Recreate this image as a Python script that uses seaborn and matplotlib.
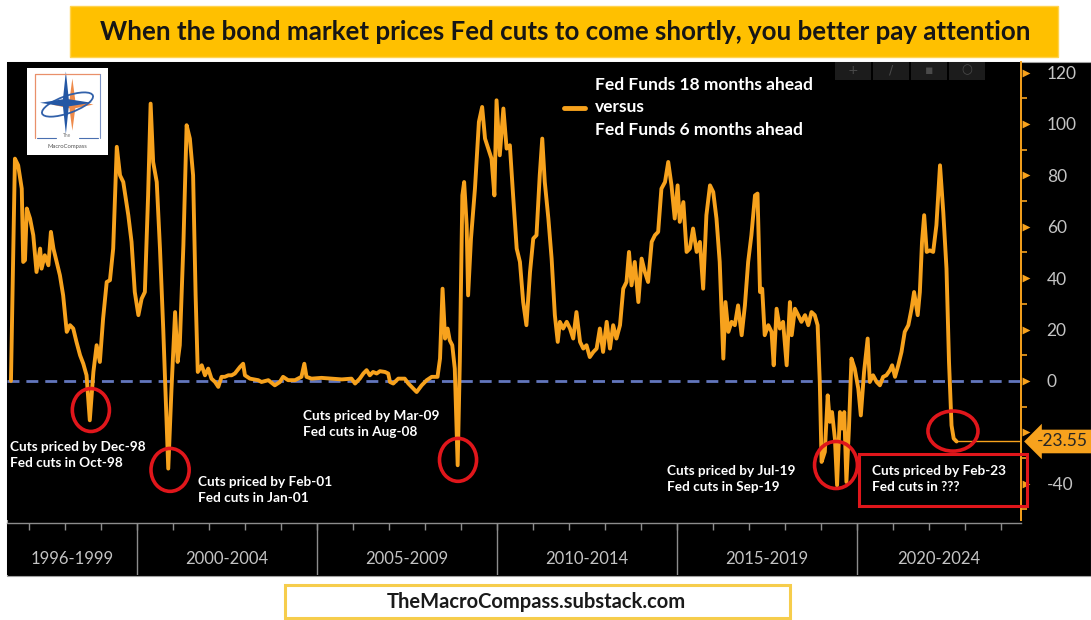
import numpy as np
import pandas as pd
import matplotlib
matplotlib.use("Agg")
import matplotlib.pyplot as plt
import matplotlib.transforms as mtransforms
from matplotlib.patches import Rectangle, Ellipse, Polygon
from matplotlib.lines import Line2D
import seaborn as sns

sns.set_theme(style="dark")
plt.rcParams["font.family"] = ["Lato", "DejaVu Sans"]

# ---------------------------------------------------------------------------
# Fed Funds 18m-ahead minus 6m-ahead spread (bp), by decimal year
# ---------------------------------------------------------------------------
t_1996_1999 = [1996.50, 1996.61, 1996.70, 1996.80, 1996.84, 1996.89, 1996.94, 1997.03,
               1997.12, 1997.21, 1997.31, 1997.35, 1997.44, 1997.54, 1997.61, 1997.68,
               1997.77, 1997.86, 1997.95, 1998.05, 1998.14, 1998.23, 1998.32, 1998.42,
               1998.51, 1998.60, 1998.69, 1998.79, 1998.88, 1998.97, 1999.06, 1999.16,
               1999.25, 1999.34, 1999.44, 1999.53, 1999.62, 1999.76, 1999.85, 1999.94]
v_1996_1999 = [0.0, 86.5, 83.9, 74.8, 46.3, 47.0, 67.1, 63.2,
               56.7, 42.4, 51.5, 43.7, 48.9, 45.0, 58.0, 51.5,
               46.3, 41.1, 33.3, 19.1, 21.7, 20.4, 15.2, 10.0,
               6.7, 2.2, -15.3, 3.5, 13.9, 7.4, 24.3, 38.5,
               39.2, 51.5, 91.1, 80.0, 77.4, 64.5, 54.1, 34.6]

t_2000_2004 = [2000.04, 2000.13, 2000.22, 2000.31, 2000.38, 2000.45, 2000.55, 2000.64,
               2000.73, 2000.87, 2000.96, 2001.06, 2001.13, 2001.19, 2001.29, 2001.38,
               2001.47, 2001.56, 2001.63, 2001.69, 2001.80, 2001.89, 2001.98, 2002.07,
               2002.17, 2002.26, 2002.35, 2002.44, 2002.54, 2002.63, 2002.72, 2002.86,
               2002.95, 2003.00, 2003.14, 2003.37, 2003.46, 2003.65, 2003.83, 2003.97,
               2004.06, 2004.20, 2004.39, 2004.57, 2004.65, 2004.71, 2004.85]
v_2000_2004 = [25.6, 32.0, 34.6, 72.2, 107.9, 85.2, 77.4, 51.5,
               20.4, -34.1, -3.0, 26.8, 7.4, 13.9, 52.8, 99.5,
               94.3, 80.0, 33.3, 3.5, 6.1, 2.2, 4.8, 0.9,
               -0.4, -2.3, 1.6, 1.6, 2.2, 2.2, 2.9, 5.4,
               6.7, 2.2, 0.9, 0.3, -0.4, 0.3, -1.7, -0.4,
               1.6, 0.3, 0.3, 1.6, 6.7, 1.6, 0.9]

t_2005_2009 = [2005.13, 2005.41, 2005.69, 2005.96, 2006.06, 2006.19, 2006.29, 2006.38,
               2006.47, 2006.56, 2006.66, 2006.75, 2006.89, 2006.98, 2007.03, 2007.12,
               2007.26, 2007.44, 2007.54, 2007.63, 2007.77, 2007.91, 2008.05, 2008.19,
               2008.35, 2008.42, 2008.49, 2008.56, 2008.63, 2008.69, 2008.76, 2008.83,
               2008.91, 2008.97, 2009.04, 2009.09, 2009.16, 2009.20, 2009.28, 2009.39,
               2009.50, 2009.59, 2009.67, 2009.76, 2009.85, 2009.93, 2009.99]
v_2005_2009 = [1.2, 0.9, 0.6, 0.9, -1.0, 0.9, 2.9, 4.2,
               2.2, 3.5, 2.9, 3.8, 3.5, 2.9, -0.4, -1.0,
               0.9, 0.9, -1.0, -2.3, -4.3, -1.7, 0.3, 1.6,
               1.6, 8.7, 35.9, 16.5, 20.4, 15.8, 13.9, 4.8,
               -32.8, 7.4, 72.2, 77.4, 60.6, 33.3, 55.4, 74.8,
               100.8, 106.6, 94.3, 90.4, 86.5, 72.2, 109.2]

t_2010_2014 = [2010.08, 2010.18, 2010.27, 2010.36, 2010.45, 2010.55, 2010.64, 2010.73,
               2010.82, 2010.92, 2011.01, 2011.10, 2011.19, 2011.26, 2011.33, 2011.43,
               2011.52, 2011.61, 2011.69, 2011.75, 2011.84, 2011.94, 2012.03, 2012.12,
               2012.21, 2012.31, 2012.40, 2012.49, 2012.58, 2012.68, 2012.77, 2012.86,
               2012.95, 2013.05, 2013.14, 2013.23, 2013.32, 2013.42, 2013.51, 2013.60,
               2013.67, 2013.74, 2013.83, 2013.93, 2014.02, 2014.11, 2014.20, 2014.30,
               2014.39, 2014.48, 2014.57, 2014.67, 2014.76, 2014.85, 2014.94]
v_2010_2014 = [87.8, 106.0, 90.4, 91.7, 72.2, 51.5, 46.3, 30.7,
               21.7, 42.4, 55.4, 56.7, 80.0, 94.3, 77.4, 63.2,
               47.6, 25.6, 15.2, 23.0, 20.4, 23.0, 20.4, 16.5,
               26.8, 15.2, 12.6, 13.9, 9.3, 11.3, 12.6, 20.4,
               11.3, 23.0, 12.6, 21.7, 16.5, 21.7, 35.9, 38.5,
               50.2, 37.2, 46.3, 30.7, 47.6, 42.4, 38.5, 54.1,
               56.7, 58.0, 74.8, 77.4, 85.2, 76.1, 63.2]

t_2015_2019 = [2015.02, 2015.08, 2015.18, 2015.27, 2015.36, 2015.45, 2015.55, 2015.64,
               2015.73, 2015.82, 2015.92, 2016.01, 2016.10, 2016.19, 2016.29, 2016.35,
               2016.43, 2016.52, 2016.61, 2016.70, 2016.80, 2016.89, 2016.98, 2017.07,
               2017.17, 2017.24, 2017.31, 2017.37, 2017.44, 2017.54, 2017.63, 2017.69,
               2017.77, 2017.86, 2017.95, 2018.05, 2018.14, 2018.19, 2018.28, 2018.37,
               2018.46, 2018.56, 2018.65, 2018.74, 2018.83, 2018.91, 2018.97, 2019.02,
               2019.11, 2019.19, 2019.25, 2019.31, 2019.39, 2019.45, 2019.53, 2019.59,
               2019.65, 2019.71, 2019.78, 2019.85, 2019.94]
v_2015_2019 = [76.1, 61.9, 69.6, 50.2, 51.5, 59.3, 50.2, 54.1,
               35.9, 64.5, 76.1, 73.5, 63.2, 46.3, 8.7, 30.7,
               19.1, 23.0, 21.7, 29.4, 17.8, 29.4, 46.3, 56.7,
               72.2, 72.9, 34.6, 35.9, 17.8, 21.7, 19.1, 6.1,
               28.1, 20.4, 23.0, 6.1, 30.7, 17.8, 28.1, 25.6,
               23.0, 25.6, 21.7, 26.8, 25.6, 21.7, -0.4, -31.5,
               -27.6, -5.6, -15.9, -12.1, -22.4, -40.6, -12.1, -18.5,
               -12.1, -39.3, -18.5, 8.7, 4.8]

t_2020_2024 = [2020.04, 2020.11, 2020.20, 2020.30, 2020.36, 2020.45, 2020.55, 2020.64,
               2020.73, 2020.82, 2020.92, 2020.98, 2021.06, 2021.15, 2021.24, 2021.33,
               2021.43, 2021.52, 2021.59, 2021.69, 2021.75, 2021.81, 2021.87, 2021.94,
               2022.03, 2022.12, 2022.21, 2022.31, 2022.40, 2022.49, 2022.56, 2022.63,
               2022.69, 2022.77]
v_2020_2024 = [-3.0, -13.4, 3.5, 16.5, -0.4, 2.2, -0.4, -1.7,
               1.6, 2.2, 4.2, 6.1, 1.6, 6.1, 11.3, 19.1,
               21.7, 28.1, 34.6, 25.6, 34.6, 54.1, 64.5, 50.2,
               50.8, 50.2, 60.6, 83.9, 65.8, 43.7, 7.4, -17.3,
               -22.4, -23.55]

periods = ["1996-1999", "2000-2004", "2005-2009", "2010-2014", "2015-2019", "2020-2024"]
period_edges = [1996, 2000, 2005, 2010, 2015, 2020, 2025]
y_major = [-40, -20, 0, 20, 40, 60, 80, 100, 120]
# the -20 label sits under the last-value tag
y_major_labels = ["-40", "", "0", "20", "40", "60", "80", "100", "120"]
legend_label = "Fed Funds 18 months ahead\nversus\nFed Funds 6 months ahead"

callouts = [
    ("Cuts priced by Dec-98\nFed cuts in Oct-98", 1996.47, -23.5),
    ("Cuts priced by Feb-01\nFed cuts in Jan-01", 2001.69, -36.8),
    ("Cuts priced by Mar-09\nFed cuts in Aug-08", 2004.61, -11.2),
    ("Cuts priced by Jul-19\nFed cuts in Sep-19", 2014.72, -32.6),
    ("Cuts priced by Feb-23\nFed cuts in ???", 2020.42, -32.6),
]
# circled episodes: centre (year, bp), width (years), height (bp)
circles = [
    (1998.72, -11.3, 1.03, 16.7),
    (2000.92, -34.6, 1.06, 16.7),
    (2008.92, -30.7, 1.03, 16.7),
    (2019.42, -32.7, 1.19, 18.3),
    (2022.67, -19.5, 1.39, 15.6),
]

df = pd.DataFrame({
    "year": np.concatenate([t_1996_1999, t_2000_2004, t_2005_2009,
                            t_2010_2014, t_2015_2019, t_2020_2024]),
    "spread": np.concatenate([v_1996_1999, v_2000_2004, v_2005_2009,
                              v_2010_2014, v_2015_2019, v_2020_2024]),
})

# ---------------------------------------------------------------------------
ORANGE = "#F7A21D"
BLUE = "#6276BD"
RED = "#E0161B"
GREY_TXT = "#C4C4C4"

W, H = 1091, 620


def fx(px):
    return px / W


def fy(py):
    return 1 - py / H


fig = plt.figure(figsize=(W / 100, H / 100), dpi=100)
fig.patch.set_facecolor("white")

# black terminal panel
fig.add_artist(Rectangle((fx(7), fy(576)), fx(1091) - fx(7), fy(62) - fy(576),
                         transform=fig.transFigure, facecolor="black",
                         edgecolor="#a0a0a0", lw=0.8, zorder=0))

# title banner
fig.add_artist(Rectangle((fx(70), fy(57)), fx(1058) - fx(70), fy(6) - fy(57),
                         transform=fig.transFigure, facecolor="#FFC000",
                         edgecolor="#FFD34F", lw=1.0, zorder=1))
fig.text(fx(565), fy(32), "When the bond market prices Fed cuts to come shortly, you better pay attention",
         ha="center", va="center", fontsize=18.6, fontweight="bold", color="#161616", zorder=2)

# footer banner
fig.add_artist(Rectangle((fx(285), fy(618)), fx(790) - fx(285), fy(585) - fy(618),
                         transform=fig.transFigure, facecolor="white",
                         edgecolor="#F6CD4C", lw=2.2, zorder=1))
fig.text(fx(536), fy(602), "TheMacroCompass.substack.com", ha="center", va="center",
         fontsize=14.5, fontweight="bold", color="#1a1a1a", zorder=2)

# ---------------------------------------------------------------------------
# main panel
ax = fig.add_axes([fx(7), fy(520), fx(1021) - fx(7), fy(62) - fy(520)])
ax.set_facecolor("black")
xmin, xmax = 1996.39, 2024.56
ax.set_xlim(xmin, xmax)
ax.set_ylim(-54.1, 124.1)

ax.axhline(0, color=BLUE, lw=2.0, dashes=(4.3, 2.5), zorder=1)
sns.lineplot(data=df, x="year", y="spread", ax=ax, color=ORANGE, lw=2.8,
             estimator=None, sort=False, legend=False, zorder=3)

last_x, last_v = df["year"].iloc[-1], df["spread"].iloc[-1]
ax.hlines(last_v, last_x, xmax, color=ORANGE, lw=1.0, zorder=3)

for s in ["top", "bottom", "left"]:
    ax.spines[s].set_visible(False)
ax.spines["right"].set_color(ORANGE)
ax.spines["right"].set_linewidth(1.4)
ax.grid(False)
ax.set_xlabel("")
ax.set_ylabel("")
ax.set_xticks([])

ax.yaxis.tick_right()
ax.set_yticks(y_major)
ax.set_yticklabels(y_major_labels)
ax.set_yticks(np.arange(-50, 125, 10), minor=True)
ax.tick_params(axis="y", which="major", length=0, pad=18.5, labelcolor=GREY_TXT, labelsize=12.5)
ax.tick_params(axis="y", which="minor", length=4, width=1.2, color=ORANGE, direction="out")
ax.tick_params(axis="y", which="minor", right=True, left=False)

# triangular major tick marks on the value axis
tri = mtransforms.blended_transform_factory(ax.transAxes, ax.transData)
ax.scatter(np.full(len(y_major), 1.0 + 4.5 / 1014), y_major, marker=">", s=32,
           color=ORANGE, transform=tri, clip_on=False, zorder=5, linewidths=0)

# last value tag
ax.text(1.0 + 16 / 1014, last_v, f"{last_v:.2f}", transform=tri, ha="left", va="center",
        fontsize=12.5, color="#262626", zorder=7, clip_on=False,
        bbox=dict(boxstyle="larrow,pad=0.22", fc=ORANGE, ec="none"))

# legend
handle = Line2D([], [], color=ORANGE, lw=3.5)
leg = ax.legend([handle], [legend_label], loc="upper left", frameon=False,
                bbox_to_anchor=(fx(564), fy(77)), bbox_transform=fig.transFigure,
                borderpad=0, borderaxespad=0, handlelength=1.2, handletextpad=0.6,
                prop=dict(weight="bold", size=12.5))
for txt in leg.get_texts():
    txt.set_color("white")
    txt.set_linespacing(1.5)

# callouts and circles
for text, x0, y0 in callouts:
    ax.text(x0, y0, text, ha="left", va="top", color="white", fontsize=9.8,
            fontweight="bold", linespacing=1.4, zorder=6, clip_on=False)
for cx, cy, w, h in circles:
    ax.add_patch(Ellipse((cx, cy), w, h, fill=False, ec=RED, lw=2.6, zorder=6, clip_on=False))

fig.add_artist(Rectangle((fx(859), fy(506)), fx(1027) - fx(859), fy(454) - fy(506),
                         transform=fig.transFigure, fill=False, edgecolor=RED, lw=2.2, zorder=8))

# ---------------------------------------------------------------------------
# period band along the bottom
bx = fig.add_axes([fx(7), fy(575), fx(1021) - fx(7), fy(523) - fy(575)])
bx.set_facecolor("black")
bx.set_xlim(xmin, xmax)
bx.set_ylim(0, 1)
for s in ["bottom", "left", "right"]:
    bx.spines[s].set_visible(False)
bx.spines["top"].set_color("#8c8c8c")
bx.spines["top"].set_linewidth(1.0)
bx.grid(False)
bx.set_yticks([])
bx.xaxis.tick_top()
bx.set_xticks(np.arange(1997, 2025))
bx.tick_params(axis="x", which="major", direction="in", length=5, width=1.0,
               color="#8c8c8c", labeltop=False, labelbottom=False)
for edge in period_edges[1:-1]:
    bx.axvline(edge, color="#8c8c8c", lw=1.0)
for label, a, b in zip(periods, period_edges[:-1], period_edges[1:]):
    mid = (max(a, xmin) + min(b, xmax)) / 2
    bx.text(mid, 0.3, label, ha="center", va="center", color=GREY_TXT, fontsize=12)

# ---------------------------------------------------------------------------
# toolbar strip
for i, glyph in enumerate(["+", "/", "▪", "○"]):
    x0 = 835 + i * 38
    fig.add_artist(Rectangle((fx(x0), fy(80)), fx(36), fy(62) - fy(80),
                             transform=fig.transFigure, facecolor="#1c1c1c",
                             edgecolor="none", zorder=2))
    fig.text(fx(x0 + 18), fy(70), glyph, ha="center", va="center", color="#4a4a4a",
             fontsize=9, family="DejaVu Sans", zorder=3)

# logo
lx = fig.add_axes([fx(27), fy(155), fx(108) - fx(27), fy(68) - fy(155)])
lx.set_xlim(0, 1)
lx.set_ylim(0, 1)
lx.axis("off")
lx.add_patch(Rectangle((0, 0), 1, 1, facecolor="white", edgecolor="none"))
lx.plot([0.1, 0.1, 0.9], [0.2, 0.93, 0.93], color="#E9906A", lw=0.9)
lx.plot([0.9, 0.9], [0.93, 0.2], color="#7C93C6", lw=0.8)
lx.plot([0.12, 0.36], [0.2, 0.2], color="#4A6FB0", lw=0.8)
lx.plot([0.64, 0.88], [0.2, 0.2], color="#4A6FB0", lw=0.8)
lx.text(0.5, 0.22, "The", ha="center", va="center", fontsize=3.5, color="#777")
lx.text(0.5, 0.1, "MacroCompass", ha="center", va="center", fontsize=4.2, color="#555")


def star(cx, cy, rx, ry, inner):
    pts = []
    for k in range(8):
        ang = np.pi / 2 - k * np.pi / 4
        r = 1.0 if k % 2 == 0 else inner
        pts.append((cx + rx * r * np.cos(ang), cy + ry * r * np.sin(ang)))
    return pts


lx.add_patch(Polygon(star(0.56, 0.58, 0.26, 0.3, 0.2), closed=True, fc="#EE8A4A", ec="none"))
lx.add_patch(Ellipse((0.5, 0.58), 0.66, 0.2, angle=18, fill=False, ec="#3261AA", lw=1.3))
lx.add_patch(Polygon(star(0.48, 0.6, 0.32, 0.36, 0.16), closed=True, fc="#2457A4", ec="none"))

fig.savefig("out.png", dpi=100, facecolor=fig.get_facecolor())
